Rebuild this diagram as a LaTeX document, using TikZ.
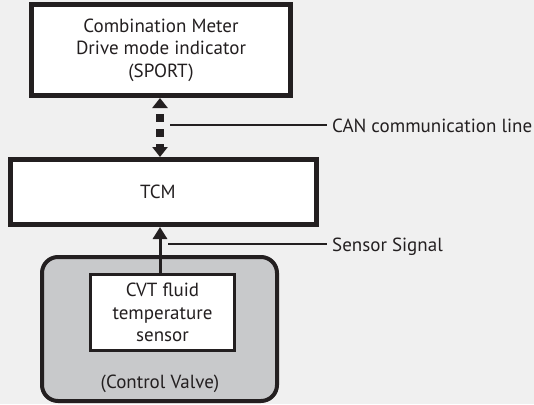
\documentclass[tikz,border=0pt]{standalone}
\usepackage{fontspec}
\setmainfont{PT Sans}
\usetikzlibrary{arrows.meta}
\definecolor{bg}{HTML}{F0F0F0}
\definecolor{ink}{HTML}{231F20}
\definecolor{valve}{HTML}{C8C9CB}
\begin{document}
\begin{tikzpicture}[x=1pt,y=-1pt,
  every node/.style={font=\fontsize{19}{22.5}\selectfont, text=ink, inner sep=0pt},
  box/.style={draw=ink, fill=white, align=center},
  valvebox/.style={draw=ink, fill=valve, rounded corners=16pt, line width=4pt},
  canlink/.style={draw=ink, line width=7.5pt, dash pattern=on 8pt off 7pt, dash phase=8pt,
    {Triangle[length=10pt,width=15pt]}-{Triangle[length=10pt,width=15pt]}},
  siglink/.style={draw=ink, line width=3pt, -{Triangle[length=12pt,width=14pt]}},
  leader/.style={draw=ink, line width=1.2pt},
  lbl/.style={anchor=base west}]
\useasboundingbox[fill=bg] (0,0) rectangle (534,404);

\node[box, line width=5pt, minimum width=259pt, minimum height=91pt] (meter) at (161,50)
  {Combination Meter\\Drive mode indicator\\(SPORT)};
\node[box, line width=5pt, minimum width=306pt, minimum height=65pt] (tcm) at (163.5,192) {};
\node (tcmtxt) at (158,192) {TCM};
\node[valvebox, minimum width=235pt, minimum height=144pt] (valve) at (159.5,329) {};
\node[box, line width=3.3pt, minimum width=144pt, minimum height=76pt] (sensor) at (162.5,312.5)
  {CVT fluid\\temperature\\sensor};
\node[anchor=base] (valvetxt) at (160,388) {(Control Valve)};

\coordinate (ax) at (160,0);
\draw[canlink] (ax |- meter.south) -- (ax |- tcm.north);
\draw[siglink] (ax |- sensor.north) -- (ax |- tcm.south);

\node[lbl] (canlbl) at (332,132) {CAN communication line};
\node[lbl] (siglbl) at (332,251.5) {Sensor Signal};
\coordinate (canstart) at (170,125);
\coordinate (sigstart) at (168,244);
\draw[leader] (canstart) -- ([xshift=-5pt]canstart -| canlbl.west);
\draw[leader] (sigstart) -- ([xshift=-5pt]sigstart -| siglbl.west);
\end{tikzpicture}
\end{document}
